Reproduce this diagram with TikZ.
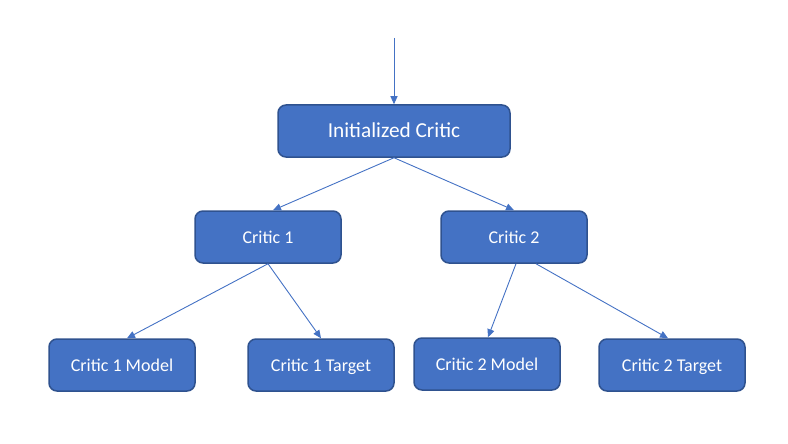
\documentclass[tikz,border=0pt]{standalone}
\usepackage{fontspec}
\setmainfont{Carlito}
\usetikzlibrary{arrows.meta}
\definecolor{boxfill}{HTML}{4472C4}
\definecolor{boxedge}{HTML}{2F528F}
\definecolor{linec}{HTML}{4472C4}
\begin{document}
\begin{tikzpicture}[x=1pt,y=-1pt,
  blockbox/.style={draw=boxedge,line width=1.5pt,fill=boxfill,rounded corners=8pt,
    text=white,font=\fontsize{18}{20}\selectfont,minimum width=146pt,minimum height=52pt,inner sep=0pt,
    text height=14pt,text depth=2pt},
  bigbox/.style={blockbox,minimum width=232pt,font=\fontsize{21.3}{24}\selectfont,text height=16pt,text depth=2pt},
  conn/.style={draw=linec,line width=0.9pt,-{Triangle[width=7pt,length=8pt]}}]
\useasboundingbox (0,0) rectangle (788,444);
\node[bigbox] (init) at (394,131) {Initialized Critic};
\node[blockbox] (c1) at (268,237) {Critic 1};
\node[blockbox] (c2) at (514,237) {Critic 2};
\node[blockbox] (c1m) at (122,365) {Critic 1 Model};
\node[blockbox] (c1t) at (321,365) {Critic 1 Target};
\node[blockbox] (c2m) at (487,364) {Critic 2 Model};
\node[blockbox] (c2t) at (672,365) {Critic 2 Target};
\coordinate (start) at (394,38);
\draw[conn] (start) -- (init.north);
\draw[conn] (init.south) -- ([xshift=5pt]c1.north);
\draw[conn] (init.south) -- (c2.north);
\draw[conn] (c1.south) -- ([xshift=5pt]c1m.north);
\draw[conn] (c1.south) -- (c1t.north);
\draw[conn] ([xshift=2pt]c2.south) -- ([xshift=1pt]c2m.north);
\draw[conn] ([xshift=22pt]c2.south) -- ([xshift=-4pt]c2t.north);
\end{tikzpicture}
\end{document}
